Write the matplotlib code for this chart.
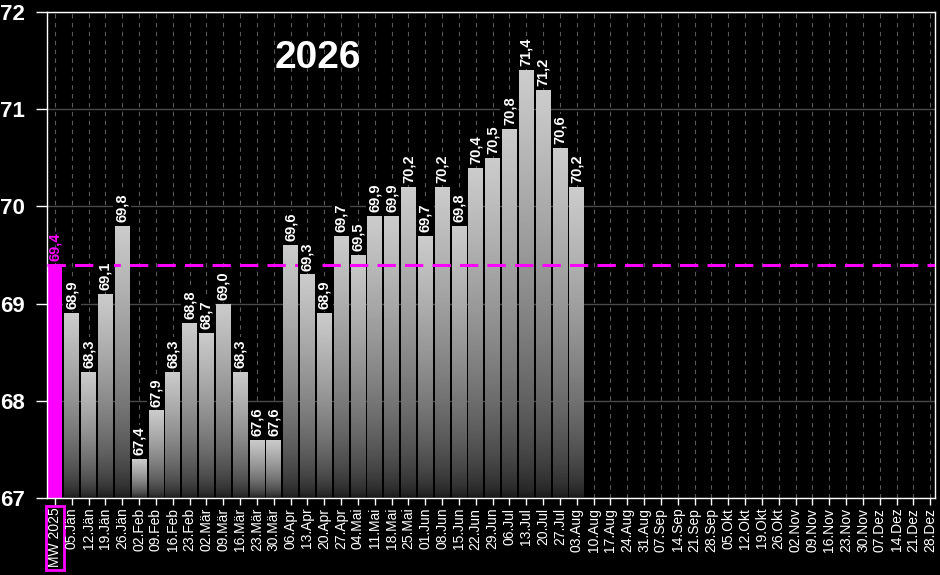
import numpy as np
import matplotlib
matplotlib.use("Agg")
import matplotlib.pyplot as plt
from matplotlib.patches import Rectangle

# Wochen-Labels (erste Kategorie = Mittelwert Vorjahr)
labels = ["MW 2025",
          "05.Jän", "12.Jän", "19.Jän", "26.Jän",
          "02.Feb", "09.Feb", "16.Feb", "23.Feb",
          "02.Mär", "09.Mär", "16.Mär", "23.Mär", "30.Mär",
          "06.Apr", "13.Apr", "20.Apr", "27.Apr",
          "04.Mai", "11.Mai", "18.Mai", "25.Mai",
          "01.Jun", "08.Jun", "15.Jun", "22.Jun", "29.Jun",
          "06.Jul", "13.Jul", "20.Jul", "27.Jul",
          "03.Aug", "10.Aug", "17.Aug", "24.Aug", "31.Aug",
          "07.Sep", "14.Sep", "21.Sep", "28.Sep",
          "05.Okt", "12.Okt", "19.Okt", "26.Okt",
          "02.Nov", "09.Nov", "16.Nov", "23.Nov", "30.Nov",
          "07.Dez", "14.Dez", "21.Dez", "28.Dez"]

mw_vorjahr = 69.4
werte = [68.9, 68.3, 69.1, 69.8,
         67.4, 67.9, 68.3, 68.8,
         68.7, 69.0, 68.3, 67.6, 67.6,
         69.6, 69.3, 68.9, 69.7,
         69.5, 69.9, 69.9, 70.2,
         69.7, 70.2, 69.8, 70.4, 70.5,
         70.8, 71.4, 71.2, 70.6,
         70.2]
jahr = "2026"

y_min, y_max = 67, 72
magenta = "#ff00ff"
zahlfont = ["Liberation Sans", "DejaVu Sans"]

fig = plt.figure(figsize=(9.4, 5.75), dpi=100, facecolor="black")
ax = fig.add_axes([0.05, 0.134, 0.945, 0.845], facecolor="black")

x = np.arange(len(labels))
breite = 0.87

# Raster
ax.set_axisbelow(True)
for yy in range(y_min, y_max + 1):
    ax.axhline(yy, color="#4a4a4a", lw=1, zorder=0)
for xx in x:
    ax.axvline(xx, color="#5a5a5a", lw=0.8, ls=(0, (4, 4)), zorder=0)

# Vorjahres-Balken
ax.bar(0, mw_vorjahr - y_min, bottom=y_min, width=breite, color=magenta, zorder=2)
ax.text(0, mw_vorjahr + 0.04, "69,4", rotation=90, ha="center", va="bottom",
        color=magenta, fontsize=10.5, fontweight="bold", family=zahlfont, zorder=5)

# Balken mit Verlauf (oben hell, unten dunkel)
t = np.linspace(1, 0, 256)
verlauf = (0.09 + 0.71 * t ** 0.6).reshape(-1, 1)
for i, w in enumerate(werte, start=1):
    x0 = i - breite / 2
    rect = Rectangle((x0, y_min), breite, w - y_min, facecolor="none",
                     edgecolor="none", zorder=2)
    ax.add_patch(rect)
    im = ax.imshow(verlauf, cmap="gray", vmin=0, vmax=1, aspect="auto",
                   extent=(x0, x0 + breite, y_min, w), zorder=2,
                   interpolation="bilinear")
    im.set_clip_path(rect)
    ax.text(i, w + 0.04, f"{w:.1f}".replace(".", ","), rotation=90,
            ha="center", va="bottom", color="white", fontsize=10.5,
            fontweight="bold", family=zahlfont, zorder=6,
            bbox=dict(facecolor="black", edgecolor="none", pad=1.5))

# Mittelwert-Linie
ax.axhline(mw_vorjahr, color=magenta, lw=2.2, ls=(0, (6, 3)), zorder=4)

ax.set_xlim(-0.47, len(labels) - 0.7)
ax.set_ylim(y_min, y_max)

ax.set_xticks(x)
ax.set_xticklabels(labels, rotation=90, color="white", fontsize=10,
                   family=zahlfont)
tl = ax.get_xticklabels()[0]
tl.set_bbox(dict(facecolor="none", edgecolor=magenta, lw=2, pad=1.5))

ax.set_yticks(range(y_min, y_max + 1))
ax.set_yticklabels([str(v) for v in range(y_min, y_max + 1)], color="white",
                   fontsize=16, fontweight="bold", family=zahlfont)
ax.tick_params(axis="x", colors="white", length=5, width=1, pad=2)
ax.tick_params(axis="y", colors="white", length=8, width=1, pad=8)

for s in ax.spines.values():
    s.set_color("white")
    s.set_linewidth(1)

ax.text(0.305, 0.905, jahr, transform=ax.transAxes, color="white",
        fontsize=28, fontweight="bold", family=zahlfont, ha="center", va="center")

fig.savefig("out.png", dpi=100, facecolor="black")
